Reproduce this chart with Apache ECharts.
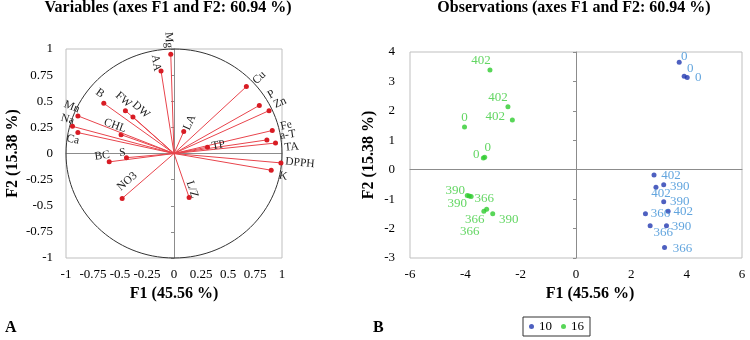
<!DOCTYPE html>
<html>
<head>
<meta charset="utf-8">
<script src="https://cdn.jsdelivr.net/npm/echarts@6/dist/echarts.min.js"></script>
<style>
  html, body { margin: 0; padding: 0; background: #fff; }
  #main { width: 750px; height: 340px; }
</style>
</head>
<body>
<div id="main"></div>
<script>
// variables (loadings on F1 / F2)
const varNames = ['Mg', 'AA', 'Cu', 'P', 'Zn', 'Fe', 'a-T', 'TA', 'DPPH', 'K', 'TP', 'LA', 'L/Z', 'NO3', 'BC', 'S', 'CHL', 'Ca', 'Na', 'Mn', 'B', 'FW', 'DW'];
const varF1 = [-0.03, -0.12, 0.67, 0.79, 0.88, 0.91, 0.86, 0.94, 0.99, 0.90, 0.31, 0.09, 0.14, -0.48, -0.60, -0.44, -0.49, -0.89, -0.94, -0.89, -0.65, -0.45, -0.38];
const varF2 = [0.95, 0.79, 0.64, 0.46, 0.41, 0.22, 0.13, 0.10, -0.09, -0.16, 0.06, 0.21, -0.42, -0.43, -0.08, -0.04, 0.18, 0.20, 0.26, 0.36, 0.48, 0.41, 0.35];

// observations, group 10
const obs10F1 = [3.73, 3.91, 4.02, 2.82, 3.17, 2.89, 3.17, 3.33, 2.51, 2.68, 3.27, 3.20];
const obs10F2 = [3.65, 3.18, 3.13, -0.18, -0.51, -0.60, -1.09, -1.41, -1.50, -1.90, -1.90, -2.64];
const obs10Names = ['0', '0', '0', '402', '390', '402', '390', '402', '366', '366', '390', '366'];

// observations, group 16
const obs16F1 = [-3.11, -2.46, -2.30, -4.03, -3.35, -3.30, -3.93, -3.86, -3.79, -3.33, -3.23, -3.01];
const obs16F2 = [3.39, 2.14, 1.69, 1.45, 0.40, 0.42, -0.88, -0.89, -0.91, -1.41, -1.34, -1.50];
const obs16Names = ['402', '402', '402', '0', '0', '0', '390', '390', '366', '366', '366', '390'];

// label nudges in pixels (style only)
const varLabelShift = {
    Mg: [-2, -14], AA: [-5, -8], Cu: [13, -9], P: [12, -11], Zn: [11, -8], Fe: [14, -5],
    'a-T': [21, -5], TA: [16, 4], DPPH: [19, 0], K: [12, 6], TP: [11, -2], LA: [6, -9],
    'L/Z': [3, -8], NO3: [5, -17], BC: [-7, -6], S: [-4, -5], CHL: [-6, -9], Ca: [-5, 7],
    Na: [-5, -7], Mn: [-6, -9], B: [-4, -10], FW: [-2, -11], DW: [8, -7]
};
const obs10Shift = [[5, -6], [6, -8], [11, 0], [17, 1], [16, 2], [5, 6], [16, 0], [15, 0], [15, 0], [13, 7], [15, 1], [18, 1]];
const obs16Shift = [[-9, -9], [-10, -9], [-17, -3], [0, -9], [-7, -3], [3, -10], [-12, -5], [-12, 8], [13, 2], [-9, 8], [-17, 22], [16, 6]];

const serif = '"Liberation Serif", "Times New Roman", serif';
const gridGray = '#bfbfbf';
const zeroGray = '#8c8c8c';

const chart = echarts.init(document.getElementById('main'));

const tickLabel = { fontFamily: serif, fontSize: 13, color: '#000' };
const axisName = { fontFamily: serif, fontSize: 16, fontWeight: 'bold', color: '#000' };
const headFont = 'bold 16px ' + serif;

const option = {
    animation: false,
    grid: [
        { left: 66, top: 49, width: 216, height: 209, show: true, borderColor: gridGray, borderWidth: 1 },
        { left: 410, top: 52, width: 332, height: 206, show: true, borderColor: gridGray, borderWidth: 1 }
    ],
    xAxis: [
        {
            gridIndex: 0, type: 'value', min: -1, max: 1, interval: 0.25,
            axisLine: { show: false, onZero: false }, axisTick: { show: false }, splitLine: { show: false },
            axisLabel: Object.assign({ margin: 10 }, tickLabel),
            name: 'F1 (45.56 %)', nameLocation: 'middle', nameGap: 27, nameTextStyle: axisName
        },
        {
            gridIndex: 0, type: 'value', min: -1, max: 1,
            axisLine: { show: true, onZero: true, lineStyle: { color: zeroGray, width: 1 } },
            axisTick: { show: false }, axisLabel: { show: false }, splitLine: { show: false }
        },
        {
            gridIndex: 1, type: 'value', min: -6, max: 6, interval: 2,
            axisLine: { show: false, onZero: false }, axisTick: { show: false }, splitLine: { show: false },
            axisLabel: Object.assign({ margin: 10 }, tickLabel),
            name: 'F1 (45.56 %)', nameLocation: 'middle', nameGap: 27,
            nameTextStyle: Object.assign({ padding: [0, 0, 0, 28] }, axisName)
        },
        {
            gridIndex: 1, type: 'value', min: -6, max: 6,
            axisLine: { show: true, onZero: true, lineStyle: { color: zeroGray, width: 1 } },
            axisTick: { show: false }, axisLabel: { show: false }, splitLine: { show: false }
        }
    ],
    yAxis: [
        {
            gridIndex: 0, type: 'value', min: -1, max: 1, interval: 0.25,
            axisLine: { show: false, onZero: false }, axisTick: { show: false }, splitLine: { show: false },
            axisLabel: Object.assign({ margin: 13 }, tickLabel),
            name: 'F2 (15.38 %)', nameLocation: 'middle', nameGap: 45, nameTextStyle: axisName
        },
        {
            gridIndex: 0, type: 'value', min: -1, max: 1, interval: 0.25,
            axisLine: { show: true, onZero: true, lineStyle: { color: zeroGray, width: 1 } },
            axisTick: { show: true, inside: true, length: 3, lineStyle: { color: zeroGray } },
            axisLabel: { show: false }, splitLine: { show: false }
        },
        {
            gridIndex: 1, type: 'value', min: -3, max: 4, interval: 1,
            axisLine: { show: false, onZero: false }, axisTick: { show: false }, splitLine: { show: false },
            axisLabel: Object.assign({ margin: 15 }, tickLabel),
            name: 'F2 (15.38 %)', nameLocation: 'middle', nameGap: 33, nameTextStyle: axisName
        },
        {
            gridIndex: 1, type: 'value', min: -3, max: 4, interval: 1,
            axisLine: { show: true, onZero: true, lineStyle: { color: zeroGray, width: 1 } },
            axisTick: { show: true, inside: true, length: 3, lineStyle: { color: zeroGray } },
            axisLabel: { show: false }, splitLine: { show: false }
        }
    ],
    legend: {
        data: ['10', '16'],
        left: 523, top: 317,
        icon: 'circle', itemWidth: 5, itemHeight: 5, itemGap: 9,
        borderColor: '#333', borderWidth: 1, padding: [3, 6],
        textStyle: { fontFamily: serif, fontSize: 13, color: '#000' }
    },
    graphic: [
        { type: 'text', x: 168, y: 0, style: { text: 'Variables (axes F1 and F2: 60.94 %)', font: headFont, fill: '#000', align: 'center', verticalAlign: 'top' } },
        { type: 'text', x: 574, y: 0, style: { text: 'Observations (axes F1 and F2: 60.94 %)', font: headFont, fill: '#000', align: 'center', verticalAlign: 'top' } },
        { type: 'text', x: 5, y: 320, style: { text: 'A', font: headFont, fill: '#000' } },
        { type: 'text', x: 373, y: 320, style: { text: 'B', font: headFont, fill: '#000' } }
    ],
    series: [
        {
            // correlation circle
            type: 'custom', name: 'circle', xAxisIndex: 0, yAxisIndex: 0, silent: true,
            data: [[0, 0]],
            renderItem: function (params, api) {
                const c = api.coord([0, 0]);
                const rx = api.coord([1, 0])[0] - c[0];
                const ry = c[1] - api.coord([0, 1])[1];
                return {
                    type: 'ellipse',
                    shape: { cx: c[0], cy: c[1], rx: rx, ry: ry },
                    style: { fill: 'none', stroke: '#333', lineWidth: 1 }
                };
            }
        },
        {
            type: 'custom', name: 'variables', xAxisIndex: 0, yAxisIndex: 0, silent: true,
            data: varF1.map((v, i) => [v, varF2[i]]),
            renderItem: function (params, api) {
                const o = api.coord([0, 0]);
                const p = api.coord([api.value(0), api.value(1)]);
                const name = varNames[params.dataIndex];
                let ang = Math.atan2(o[1] - p[1], p[0] - o[0]);
                if (ang > Math.PI / 2) ang -= Math.PI;
                else if (ang < -Math.PI / 2) ang += Math.PI;
                const s = varLabelShift[name] || [0, 0];
                return {
                    type: 'group',
                    children: [
                        { type: 'line', shape: { x1: o[0], y1: o[1], x2: p[0], y2: p[1] }, style: { stroke: '#e8444c', lineWidth: 1 } },
                        { type: 'circle', shape: { cx: p[0], cy: p[1], r: 2.5 }, style: { fill: '#d81c24' } },
                        {
                            type: 'text', x: p[0] + s[0], y: p[1] + s[1], rotation: ang,
                            style: { text: name, font: '11.5px ' + serif, fill: '#222', align: 'center', verticalAlign: 'middle' }
                        }
                    ]
                };
            }
        },
        {
            type: 'scatter', name: '10', xAxisIndex: 2, yAxisIndex: 2,
            symbolSize: 5,
            itemStyle: { color: '#2238b0' },
            label: { show: true, position: 'inside', formatter: '{b}', fontFamily: serif, fontSize: 13, color: '#3b8ed6' },
            data: obs10F1.map((v, i) => ({ name: obs10Names[i], value: [v, obs10F2[i]], label: { offset: obs10Shift[i] } }))
        },
        {
            type: 'scatter', name: '16', xAxisIndex: 2, yAxisIndex: 2,
            symbolSize: 5,
            itemStyle: { color: '#2ecc2e' },
            label: { show: true, position: 'inside', formatter: '{b}', fontFamily: serif, fontSize: 13, color: '#3ccc3c' },
            data: obs16F1.map((v, i) => ({ name: obs16Names[i], value: [v, obs16F2[i]], label: { offset: obs16Shift[i] } }))
        }
    ]
};

chart.setOption(option);
</script>
</body>
</html>
